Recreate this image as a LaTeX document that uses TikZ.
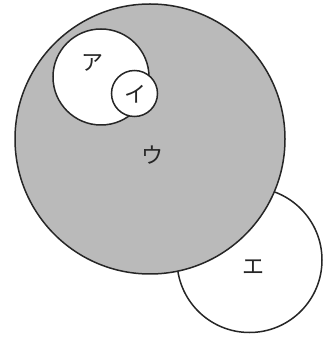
\documentclass[tikz,border=0pt]{standalone}
\usepackage{fontspec}
\newfontfamily\jpfont{Noto Sans CJK JP}
\begin{document}
\begin{tikzpicture}[x=1pt,y=1pt,
  ring/.style={draw=black!85, line width=1.5pt},
  lbl/.style={font=\jpfont\fontsize{22}{22}\selectfont, text=black!85}]
\useasboundingbox (0,0) rectangle (334,337);
\definecolor{shade}{gray}{0.73}
\path[ring, fill=white] (249.5,77) circle (72.5);
\path[ring, fill=shade] (150,198) circle (135);
\path[ring, fill=white] (101,260) circle (48);
\path[ring, fill=white] (134.5,243.5) circle (23);
\node[lbl] (a) at (92,274) {ア};
\node[lbl] (i) at (135,243) {イ};
\node[lbl] (u) at (152,182) {ウ};
\node[lbl] (e) at (253,70) {エ};
\end{tikzpicture}
\end{document}
